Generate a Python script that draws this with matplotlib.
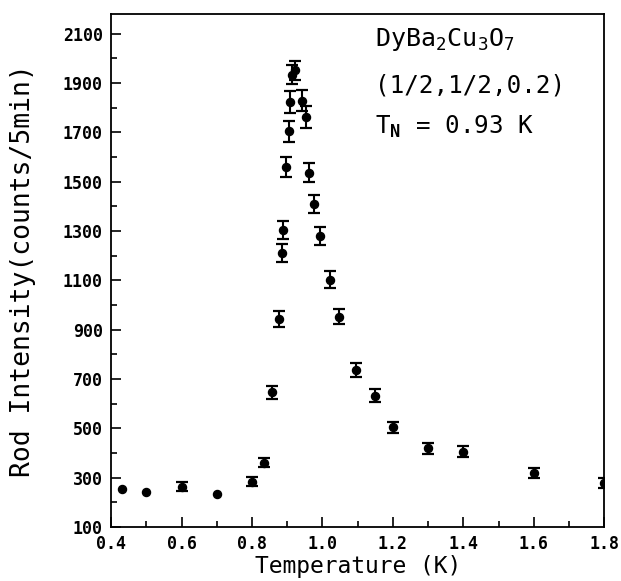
import matplotlib
matplotlib.use("Agg")
import matplotlib.pyplot as plt
from matplotlib.ticker import MultipleLocator

# Данные
temperature = [0.43, 0.50, 0.60, 0.70, 0.80, 0.833, 0.858, 0.877, 0.885, 0.889,
               0.896, 0.904, 0.909, 0.913, 0.923, 0.943, 0.954, 0.963, 0.975, 0.994,
               1.02, 1.047, 1.096, 1.148, 1.20, 1.30, 1.40, 1.60, 1.80]
intensity = [255, 240, 263, 235, 283, 361, 646, 944, 1210, 1305,
             1559, 1704, 1823, 1934, 1951, 1828, 1762, 1537, 1410, 1280,
             1102, 953, 737, 633, 504, 419, 405, 319, 277]
error = [0, 0, 19, 0, 18, 19, 26, 32, 36, 36,
         41, 43, 44, 40, 39, 43, 44, 40, 37, 36,
         35, 32, 28, 26, 22, 22, 22, 20, 20]

x_ticks = [0.4, 0.6, 0.8, 1.0, 1.2, 1.4, 1.6, 1.8]
y_ticks = [100, 300, 500, 700, 900, 1100, 1300, 1500, 1700, 1900, 2100]

mono = "DejaVu Sans Mono"
plt.rcParams["mathtext.fontset"] = "custom"
plt.rcParams["mathtext.rm"] = mono
plt.rcParams["mathtext.bf"] = mono + ":bold"

fig = plt.figure(figsize=(6.21, 5.81), dpi=100)
ax = fig.add_axes([0.179, 0.093, 0.794, 0.883])

# точки без погрешности рисуем отдельно, чтобы не было "нулевых" усов
has_err = [e > 0 for e in error]
xe = [t for t, h in zip(temperature, has_err) if h]
ye = [v for v, h in zip(intensity, has_err) if h]
ee = [e for e, h in zip(error, has_err) if h]
ax.errorbar(xe, ye, yerr=ee, fmt="o", color="black", ms=5.8,
            ecolor="black", elinewidth=1.5, capsize=4.5, capthick=1.6)
xn = [t for t, h in zip(temperature, has_err) if not h]
yn = [v for v, h in zip(intensity, has_err) if not h]
ax.plot(xn, yn, "o", color="black", ms=5.8)

ax.set_xlim(0.4, 1.8)
ax.set_ylim(100, 2180)
ax.set_xticks(x_ticks)
ax.set_yticks(y_ticks)
ax.xaxis.set_minor_locator(MultipleLocator(0.1))
ax.yaxis.set_minor_locator(MultipleLocator(100))
ax.tick_params(which="both", direction="in", top=False, right=False, width=1.2)
ax.tick_params(which="major", length=7, pad=6)
ax.tick_params(which="minor", length=4)
ax.set_xticklabels([f"{t:.1f}" for t in x_ticks], family=mono, fontweight="bold", fontsize=12)
ax.set_yticklabels([str(v) for v in y_ticks], family=mono, fontweight="bold", fontsize=12)
for s in ax.spines.values():
    s.set_linewidth(1.3)

ax.set_xlabel("Temperature (K)", family=mono, fontsize=16.5, labelpad=1)
ax.set_ylabel("Rod Intensity(counts/5min)", family=mono, fontsize=19, labelpad=19)

ax.text(0.535, 0.95, r"DyBa$_2$Cu$_3$O$_7$", transform=ax.transAxes,
        family=mono, fontsize=18, va="center", ha="left")
ax.text(0.535, 0.86, "(1/2,1/2,0.2)", transform=ax.transAxes,
        family=mono, fontsize=17.5, va="center", ha="left")
ax.text(0.535, 0.78, r"T$_{\mathbf{N}}$ = 0.93 K", transform=ax.transAxes,
        family=mono, fontsize=17.5, va="center", ha="left")

fig.savefig("out.png", dpi=100)
